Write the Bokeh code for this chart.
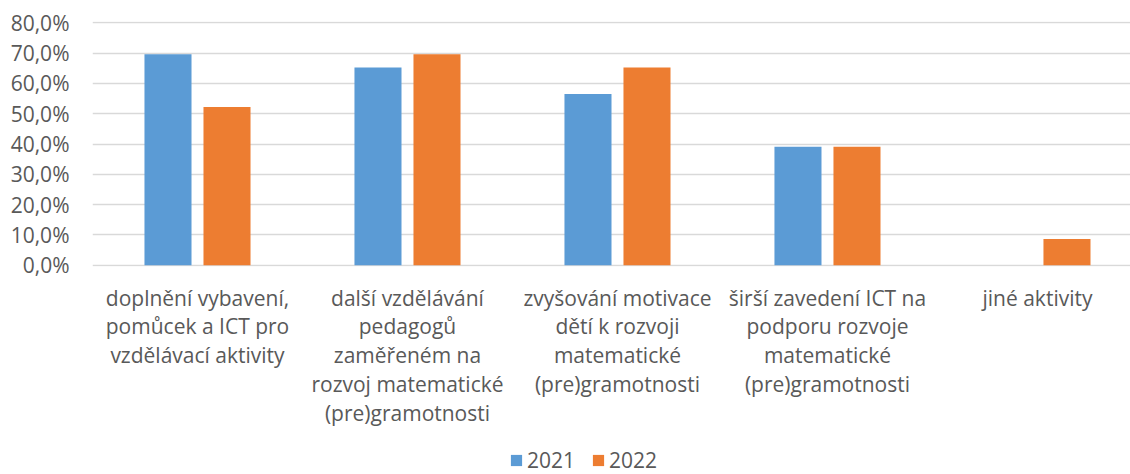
from bokeh.plotting import figure
from bokeh.layouts import column
from bokeh.models import Range1d, FixedTicker, Legend, LegendItem, ColumnDataSource
from bokeh.core.properties import value
from bokeh.transform import dodge
from bokeh.embed import file_html
from bokeh.resources import INLINE

categories = [
    "doplnění vybavení,\npomůcek a ICT pro\nvzdělávací aktivity",
    "další vzdělávání\npedagogů\nzaměřeném na\nrozvoj matematické\n(pre)gramotnosti",
    "zvyšování motivace\ndětí k rozvoji\nmatematické\n(pre)gramotnosti",
    "širší zavedení ICT na\npodporu rozvoje\nmatematické\n(pre)gramotnosti",
    "jiné aktivity",
]
series_names = ["2021", "2022"]
values_2021 = [69.6, 65.2, 56.5, 39.1, 0.0]
values_2022 = [52.2, 69.6, 65.2, 39.1, 8.7]
y_ticks = [0, 10, 20, 30, 40, 50, 60, 70, 80]
y_tick_labels = ["0,0%", "10,0%", "20,0%", "30,0%", "40,0%", "50,0%", "60,0%", "70,0%", "80,0%"]

FONT = "Open Sans"
TXT = "#595959"
FS = "21px"
BLUE = "#5B9BD5"
ORANGE = "#ED7D31"

# category slot centres (0.5, 1.5, ...) on a numeric scale; the chart is cropped on the right
xi = [i + 0.5 for i in range(len(categories))]
source = ColumnDataSource(dict(xi=xi, cat=categories, v2021=values_2021, v2022=values_2022))
xr = Range1d(0, len(categories) - 0.057)

# --- bars panel ---
p = figure(
    x_range=xr, y_range=Range1d(-0.4, 80.4),
    width=1130, height=278,
    output_backend="svg", toolbar_location=None,
    min_border_left=92, min_border_right=0, min_border_top=21, min_border_bottom=12,
)
p.outline_line_color = None

p.vbar(x=dodge("xi", -0.1405, range=xr), top="v2021", width=0.224,
       source=source, fill_color=BLUE, line_color=None)
p.vbar(x=dodge("xi", 0.1405, range=xr), top="v2022", width=0.224,
       source=source, fill_color=ORANGE, line_color=None)

p.xgrid.grid_line_color = None
p.ygrid.grid_line_color = "#d9d9d9"
p.ygrid.grid_line_width = 1.3
p.ygrid.ticker = FixedTicker(ticks=y_ticks)

p.yaxis.ticker = FixedTicker(ticks=y_ticks)
p.yaxis.major_label_overrides = {t: l for t, l in zip(y_ticks, y_tick_labels)}
p.yaxis.axis_line_color = None
p.yaxis.major_tick_line_color = None
p.yaxis.minor_tick_line_color = None
p.yaxis.major_tick_out = 0
p.yaxis.major_label_standoff = 23
p.yaxis.major_label_text_font = FONT
p.yaxis.major_label_text_font_size = FS
p.yaxis.major_label_text_color = TXT
p.xaxis.visible = False

# --- category labels + legend panel ---
p2 = figure(
    x_range=xr, y_range=Range1d(196, 0),
    width=1130, height=196,
    output_backend="svg", toolbar_location=None,
    min_border_left=92, min_border_right=0, min_border_top=0, min_border_bottom=0,
)
p2.outline_line_color = None
p2.xaxis.visible = False
p2.yaxis.visible = False
p2.xgrid.grid_line_color = None
p2.ygrid.grid_line_color = None

lab_src = ColumnDataSource(dict(xi=xi, cat=categories, y=[5] * len(categories)))
p2.text(x="xi", y="y", text="cat", source=lab_src,
        text_align="center", text_baseline="top",
        text_font=value(FONT), text_font_size=value(FS), text_color=TXT,
        text_line_height=1.03)

# zero-height keys, only to draw the legend swatches
k1 = p2.vbar(x=[xi[0]], top=[0], bottom=0, width=0.224, fill_color=BLUE, line_color=None)
k2 = p2.vbar(x=[xi[0]], top=[0], bottom=0, width=0.224, fill_color=ORANGE, line_color=None)

legend = Legend(
    items=[LegendItem(label=series_names[0], renderers=[k1]),
           LegendItem(label=series_names[1], renderers=[k2])],
    orientation="horizontal", location=(417, 0),
    glyph_width=14, glyph_height=14, spacing=16, label_standoff=4,
    label_text_font=FONT, label_text_font_size=FS, label_text_color=TXT,
    border_line_color=None, background_fill_alpha=0,
    margin=0, padding=0,
)
p2.add_layout(legend, "center")

layout = column(p, p2, spacing=0)
open("out.html", "w").write(file_html(layout, INLINE))
